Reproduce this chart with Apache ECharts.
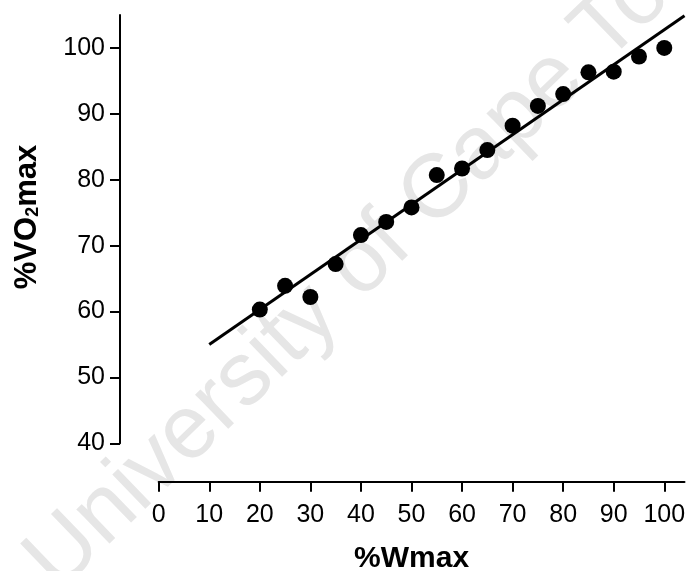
<!DOCTYPE html>
<html>
<head>
<meta charset="utf-8">
<script src="https://cdn.jsdelivr.net/npm/echarts@6/dist/echarts.min.js"></script>
<style>
html,body{margin:0;padding:0;background:#fff;}
#chart{width:686px;height:571px;}
</style>
</head>
<body>
<div id="chart"></div>
<script>
// Data
var workloadPct = [20, 25, 30, 35, 40, 45, 50, 55, 60, 65, 70, 75, 80, 85, 90, 95, 100];
var vo2Pct = [60.3, 63.9, 62.2, 67.2, 71.6, 73.6, 75.8, 80.7, 81.7, 84.5, 88.2, 91.2, 93.0, 96.3, 96.4, 98.7, 100.0];
var fitX = [10, 104];
var fitY = [55.0, 104.9];
var xTicks = [0, 10, 20, 30, 40, 50, 60, 70, 80, 90, 100];
var yTicks = [40, 50, 60, 70, 80, 90, 100];

var FONT = '"Liberation Sans", Arial, sans-serif';
var chart = echarts.init(document.getElementById('chart'), null, {renderer: 'canvas'});

var scatterData = workloadPct.map(function (x, i) { return [x, vo2Pct[i]]; });
var fitData = fitX.map(function (x, i) { return [x, fitY[i]]; });

chart.setOption({
  backgroundColor: '#ffffff',
  animation: false,
  graphic: [{
    type: 'text',
    z: -10,
    silent: true,
    x: 390,
    y: 238,
    rotation: 44 * Math.PI / 180,
    style: {
      text: 'University of Cape Town',
      font: '90px ' + FONT,
      fill: '#e6e6e6',
      align: 'center',
      verticalAlign: 'middle'
    }
  }, {
    type: 'text',
    z: 10,
    silent: true,
    x: 27,
    y: 217,
    rotation: Math.PI / 2,
    style: {
      text: '{b|%VO}{s|2}{b|max}',
      align: 'center',
      verticalAlign: 'middle',
      rich: {
        b: {fontSize: 31, fontWeight: 'bold', fontFamily: FONT, fill: '#000', lineHeight: 31},
        s: {fontSize: 18, fontWeight: 'bold', fontFamily: FONT, fill: '#000', lineHeight: 12, verticalAlign: 'bottom'}
      }
    }
  }],
  grid: {left: 158.7, right: 1.5, top: 15, bottom: 127.7, containLabel: false, outerBoundsMode: 'none'},
  xAxis: {
    type: 'value',
    min: 0,
    max: 104,
    interval: 10,
    offset: 38.5,
    splitLine: {show: false},
    axisLine: {show: true, onZero: false, lineStyle: {color: '#000', width: 2}},
    axisTick: {show: true, length: 10, inside: false, lineStyle: {color: '#000', width: 2}, customValues: xTicks},
    axisLabel: {show: true, color: '#000', fontSize: 25, fontFamily: FONT, margin: 21, customValues: xTicks},
    name: '%Wmax',
    nameLocation: 'middle',
    nameGap: 62,
    nameTextStyle: {color: '#000', fontSize: 30, fontWeight: 'bold', fontFamily: FONT, padding: [0, 20, 0, 0]}
  },
  yAxis: {
    type: 'value',
    min: 40,
    max: 105,
    interval: 10,
    offset: 38.7,
    splitLine: {show: false},
    axisLine: {show: true, onZero: false, lineStyle: {color: '#000', width: 2}},
    axisTick: {show: true, length: 10, inside: false, lineStyle: {color: '#000', width: 2}, customValues: yTicks},
    axisLabel: {show: true, color: '#000', fontSize: 25, fontFamily: FONT, margin: 15, customValues: yTicks}
  },
  series: [{
    type: 'line',
    data: fitData,
    showSymbol: false,
    symbol: 'none',
    lineStyle: {color: '#000', width: 3},
    z: 2
  }, {
    type: 'scatter',
    data: scatterData,
    symbol: 'circle',
    symbolSize: 16,
    itemStyle: {color: '#000', opacity: 1},
    z: 3
  }]
});
</script>
</body>
</html>
